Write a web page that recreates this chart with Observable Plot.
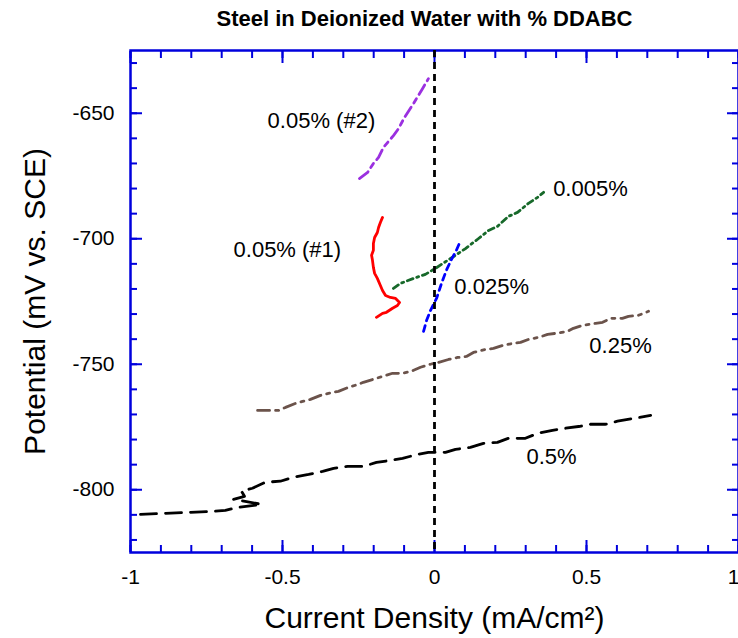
<!DOCTYPE html>
<html>
<head>
<meta charset="utf-8">
<script src="https://cdn.jsdelivr.net/npm/d3@7"></script>
<script src="https://cdn.jsdelivr.net/npm/@observablehq/plot@0.6"></script>
<style>
  html, body { margin: 0; padding: 0; background: #fff; }
  #chart svg { display: block; font-family: "Liberation Sans", Arial, Helvetica, sans-serif; }
</style>
</head>
<body>
<div id="chart"></div>
<script>
// ---- data (current density mA/cm^2, potential mV vs SCE) ----
const title = "Steel in Deionized Water with % DDABC";
const xLabel = "Current Density (mA/cm²)";
const yLabel = "Potential (mV vs. SCE)";

const xMajorTicks = [-1, -0.5, 0, 0.5, 1];
const yMajorTicks = [-800, -750, -700, -650];

// 0.5%
const i050 = [-0.967,-0.727,-0.688,-0.645,-0.569,-0.661,-0.625,-0.635,-0.599,-0.556,-0.507,-0.464,-0.414,-0.368,-0.332,-0.286,-0.234,-0.191,-0.145,-0.105,-0.056,-0.020,0.036,0.069,0.118,0.161,0.207,0.243,0.299,0.339,0.388,0.431,0.480,0.513,0.563,0.602,0.655,0.711];
const e050 = [-809.8,-808.6,-808.2,-807.0,-805.8,-803.8,-802.6,-800.6,-799.4,-797.0,-796.6,-795.0,-793.9,-792.7,-791.5,-790.7,-790.7,-789.1,-788.3,-787.5,-785.9,-785.1,-785.1,-783.9,-783.1,-781.5,-781.1,-779.5,-779.5,-777.5,-776.3,-775.5,-774.7,-773.9,-773.9,-772.7,-771.6,-770.4];

// 0.25%
const i025 = [-0.582,-0.513,-0.490,-0.457,-0.434,-0.408,-0.375,-0.349,-0.316,-0.283,-0.250,-0.234,-0.191,-0.138,-0.105,-0.076,-0.046,-0.013,0.013,0.046,0.076,0.105,0.128,0.168,0.194,0.224,0.257,0.283,0.309,0.342,0.372,0.398,0.438,0.457,0.487,0.530,0.553,0.579,0.618,0.638,0.671,0.704];
const e025 = [-768.4,-768.4,-767.2,-765.6,-764.8,-764.0,-762.4,-761.6,-760.8,-759.2,-758.0,-757.2,-755.6,-753.6,-753.6,-752.8,-751.2,-750.0,-749.3,-748.1,-747.3,-746.9,-745.3,-744.1,-743.7,-742.5,-741.7,-741.3,-740.1,-739.3,-738.1,-737.7,-736.9,-735.7,-734.5,-733.7,-733.3,-731.7,-731.7,-730.9,-730.5,-728.9];

// 0.025%
const i0025 = [-0.036,-0.026,-0.013,0.007,0.023,0.039,0.056,0.072,0.086];
const e0025 = [-736.9,-732.5,-728.5,-723.7,-717.8,-712.6,-708.2,-704.6,-700.7];

// 0.005%
const i0005 = [-0.135,-0.112,-0.069,-0.030,0.003,0.043,0.069,0.102,0.145,0.178,0.207,0.243,0.273,0.309,0.339,0.359];
const e0005 = [-719.8,-717.8,-715.8,-714.2,-711.8,-708.6,-706.6,-703.9,-699.9,-696.7,-695.1,-691.1,-689.5,-685.9,-683.5,-681.5];

// 0.05% (#1)
const i005a = [-0.171,-0.178,-0.184,-0.188,-0.197,-0.201,-0.201,-0.207,-0.204,-0.201,-0.197,-0.188,-0.178,-0.171,-0.161,-0.145,-0.128,-0.115,-0.122,-0.138,-0.158,-0.171,-0.191];
const e005a = [-691.5,-693.5,-695.5,-697.5,-699.5,-701.9,-704.6,-706.6,-708.6,-711.4,-713.8,-715.8,-718.6,-720.6,-722.6,-723.4,-723.8,-725.4,-726.6,-727.7,-729.3,-729.7,-731.3];

// 0.05% (#2)
const i005b = [-0.247,-0.220,-0.201,-0.184,-0.168,-0.135,-0.118,-0.099,-0.069,-0.039,-0.020];
const e005b = [-676.0,-673.6,-670.0,-667.6,-663.6,-658.9,-656.1,-651.7,-646.1,-640.1,-636.2];

// series labels (placed at data coordinates)
const labelText = ["0.05% (#2)", "0.05% (#1)", "0.005%", "0.025%", "0.25%", "0.5%"];
const labelI = [-0.372, -0.484, 0.513, 0.188, 0.612, 0.385];
const labelE = [-652.9, -704.6, -680.0, -719.4, -742.9, -787.1];

// ---- build ----
const zip = (xs, ys) => xs.map((x, k) => ({x, y: ys[k]}));
const labels = labelText.map((t, k) => ({t, x: labelI[k], y: labelE[k]}));
const xMinor = d3.range(-10, 11).map(d => d / 10);
const yMinor = d3.range(-820, -620, 10);
const axisBlue = "#0000dd";
const fmt = d => String(d);
const xInner = xMajorTicks.slice(0, -1);
const xLast = xMajorTicks.slice(-1);

const chart = Plot.plot({
  width: 738,
  height: 638,
  marginLeft: 130,
  marginRight: 0,
  marginTop: 50,
  marginBottom: 86,
  style: {fontFamily: '"Liberation Sans", Arial, sans-serif', background: "#fff"},
  x: {domain: [-1, 1], axis: null},
  y: {domain: [-825, -625], axis: null},
  marks: [
    // minor & major ticks, inward, on all four sides
    Plot.axisX(xMinor, {anchor: "bottom", tickSize: -7, fill: "none", label: null, stroke: axisBlue, strokeWidth: 2}),
    Plot.axisX(xMajorTicks, {anchor: "bottom", tickSize: -12, fill: "none", label: null, stroke: axisBlue, strokeWidth: 2}),
    Plot.axisX(xMinor, {anchor: "top", tickSize: -7, fill: "none", label: null, stroke: axisBlue, strokeWidth: 2}),
    Plot.axisX(xMajorTicks, {anchor: "top", tickSize: -12, fill: "none", label: null, stroke: axisBlue, strokeWidth: 2}),
    Plot.axisY(yMinor, {anchor: "left", tickSize: -7, fill: "none", label: null, stroke: axisBlue, strokeWidth: 2}),
    Plot.axisY(yMajorTicks, {anchor: "left", tickSize: -12, fill: "none", label: null, stroke: axisBlue, strokeWidth: 2}),
    Plot.axisY(yMinor, {anchor: "right", tickSize: -7, fill: "none", label: null, stroke: axisBlue, strokeWidth: 2}),
    Plot.axisY(yMajorTicks, {anchor: "right", tickSize: -12, fill: "none", label: null, stroke: axisBlue, strokeWidth: 2}),
    // tick labels
    Plot.axisX(xInner, {anchor: "bottom", tickSize: 0, tickPadding: 17, tickFormat: fmt, fontSize: 21, fill: "#000", label: null}),
    Plot.axisX(xLast, {anchor: "bottom", tickSize: 0, tickPadding: 17, tickFormat: fmt, fontSize: 21, fill: "#000", label: null, textAnchor: "end", dx: 1}),
    Plot.axisY(yMajorTicks, {anchor: "left", tickSize: 0, tickPadding: 16, tickFormat: fmt, fontSize: 21, fill: "#000", label: null}),
    Plot.frame({stroke: axisBlue, strokeWidth: 2.5}),
    // curves
    Plot.line(zip(i050, e050), {x: "x", y: "y", stroke: "#000", strokeWidth: 2.8, strokeDasharray: "16,9"}),
    Plot.line(zip(i025, e025), {x: "x", y: "y", stroke: "#6b534b", strokeWidth: 2.8, strokeDasharray: "12,6,3,6"}),
    Plot.line(zip(i0005, e0005), {x: "x", y: "y", stroke: "#17692a", strokeWidth: 2.8, strokeDasharray: "6,4,2,4"}),
    Plot.line(zip(i0025, e0025), {x: "x", y: "y", stroke: "#0000ff", strokeWidth: 2.8, strokeDasharray: "6,5"}),
    Plot.line(zip(i005a, e005a), {x: "x", y: "y", stroke: "#ff0000", strokeWidth: 2.8}),
    Plot.line(zip(i005b, e005b), {x: "x", y: "y", stroke: "#9b30e0", strokeWidth: 2.8, strokeDasharray: "11,5,5,5"}),
    Plot.ruleX([0], {stroke: "#000", strokeWidth: 2.8, strokeDasharray: "7,5"}),
    // series labels
    Plot.text(labels, {x: "x", y: "y", text: "t", fontSize: 22, fill: "#000"}),
    // titles
    Plot.text([title], {text: d => d, frameAnchor: "top", lineAnchor: "middle", dx: -10, dy: -32, fontSize: 22, fontWeight: "bold", fill: "#000"}),
    Plot.text([xLabel], {text: d => d, frameAnchor: "bottom", lineAnchor: "middle", dy: 66, fontSize: 30, fill: "#000"}),
    Plot.text([yLabel], {text: d => d, frameAnchor: "left", textAnchor: "middle", lineAnchor: "middle", dx: -95, rotate: -90, fontSize: 30, fill: "#000"})
  ]
});
document.getElementById("chart").appendChild(chart);
</script>
</body>
</html>
